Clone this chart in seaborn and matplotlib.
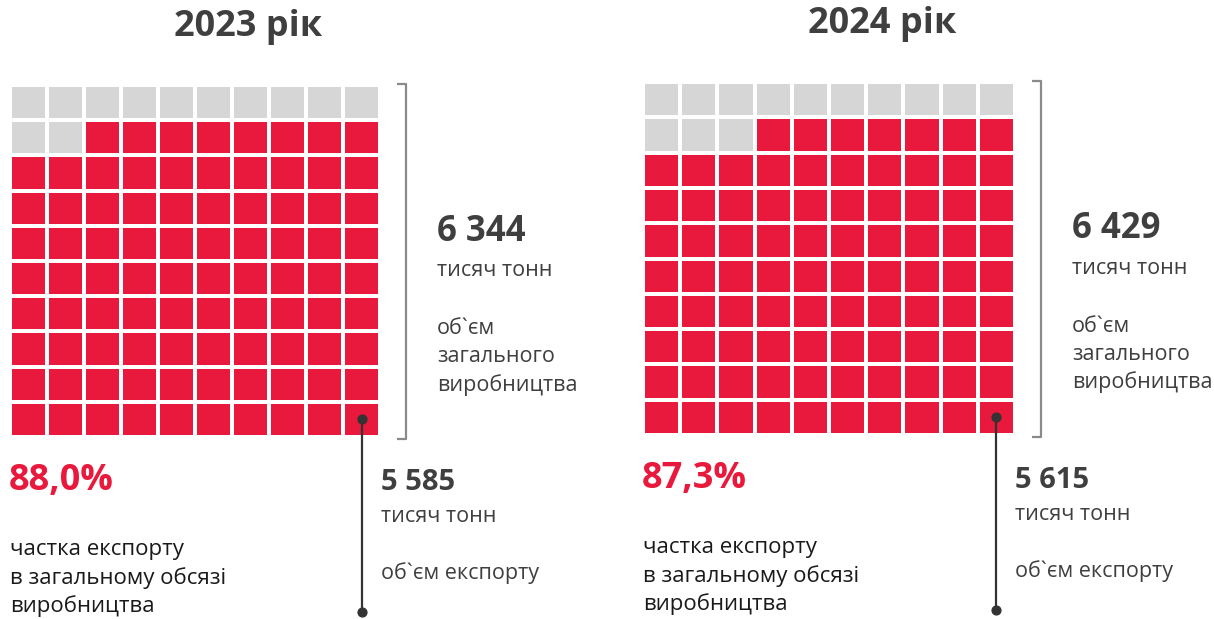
import numpy as np
import seaborn as sns
import matplotlib.pyplot as plt
from matplotlib.colors import ListedColormap

# дані
years = ['2023 рік', '2024 рік']
share_pct = [88.0, 87.3]          # частка експорту, %
total_prod = ['6 344', '6 429']   # тисяч тонн, загальне виробництво
export_vol = ['5 585', '5 615']   # тисяч тонн, експорт
share_labels = ['88,0%', '87,3%']

RED = '#e8193c'
GREY = '#d6d6d6'
DARK = '#3f3f3f'
TEXT = '#1a1a1a'

sns.set_theme(style='white')
plt.rcParams['font.family'] = ['Open Sans', 'DejaVu Sans']

W, H = 1214, 619
fig = plt.figure(figsize=(W / 100, H / 100), dpi=100)

# позиції панелей у пікселях: (x0, y0, x1, y1)
boxes = [(10, 85, 380, 437), (643, 82, 1015, 435)]

ov = fig.add_axes([0, 0, 1, 1], zorder=5)
ov.set_xlim(0, W)
ov.set_ylim(H, 0)
ov.axis('off')
ov.patch.set_alpha(0)


def lines(x, y, rows, step=28, **kw):
    for k, s in enumerate(rows):
        ov.text(x, y + k * step, s, ha='left', va='center', **kw)


for i, (x0, y0, x1, y1) in enumerate(boxes):
    ax = fig.add_axes([x0 / W, 1 - y1 / H, (x1 - x0) / W, (y1 - y0) / H])
    n_red = int(round(share_pct[i]))
    cells = np.r_[np.zeros(100 - n_red), np.ones(n_red)].reshape(10, 10)
    sns.heatmap(cells, ax=ax, cmap=ListedColormap([GREY, RED]), vmin=0, vmax=1,
                cbar=False, linewidths=1.5, linecolor='white', square=False)
    ax.set_xticks([])
    ax.set_yticks([])

    # центр останньої клітинки -> пікселі фігури
    px, py = ax.transData.transform((9.5, 9.5))
    dot_x, dot_y = px, H - py

    cx = (x0 + x1) / 2
    ov.text(cx + 53, y0 - 58, years[i], ha='center', va='center',
            fontsize=26, fontweight='bold', color=DARK)

    # дужка
    bx = x1 + 26
    ov.plot([bx - 9, bx, bx, bx - 9], [y0 - 1, y0 - 1, y1 + 2, y1 + 2],
            color='#8a8a8a', lw=1.6, solid_capstyle='butt')

    # загальне виробництво
    tx = x1 + 57
    ov.text(tx, y0 + 147, total_prod[i], ha='left', va='center',
            fontsize=25, fontweight='bold', color=DARK)
    lines(tx, y0 + 186, ['тисяч тонн'], fontsize=15.5, color=DARK)
    lines(tx, y0 + 244, ['об`єм', 'загального', 'виробництва'],
          fontsize=15.5, color=DARK)

    # частка
    ov.text(x0 - 1, y1 + 44, share_labels[i], ha='left', va='center',
            fontsize=26, fontweight='bold', color=RED)
    lines(x0, y1 + 113, ['частка експорту', 'в загальному обсязі', 'виробництва'],
          fontsize=16, color=TEXT)

    # експорт
    ov.plot([dot_x, dot_x], [dot_y, y1 + 175], color='#333333', lw=1.6)
    ov.scatter([dot_x, dot_x], [dot_y, y1 + 175], s=40, color='#333333', zorder=6)
    ex = dot_x + 19
    ov.text(ex, y1 + 45, export_vol[i], ha='left', va='center',
            fontsize=21, fontweight='bold', color=DARK)
    lines(ex, y1 + 79, ['тисяч тонн'], fontsize=15.5, color=DARK)
    lines(ex, y1 + 136, ['об`єм експорту'], fontsize=15.5, color=DARK)

fig.savefig('out.png', dpi=100)
